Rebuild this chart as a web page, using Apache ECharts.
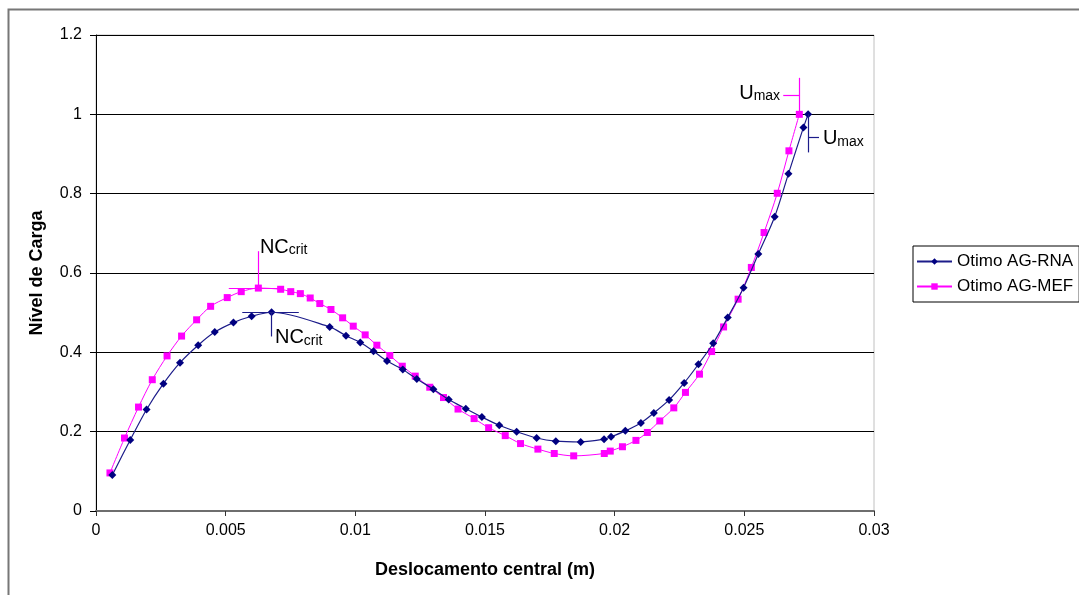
<!DOCTYPE html>
<html>
<head>
<meta charset="utf-8">
<script src="https://cdn.jsdelivr.net/npm/echarts@6/dist/echarts.min.js"></script>
<style>
html,body{margin:0;padding:0;background:#fff;}
#chart{width:1079px;height:595px;}
</style>
</head>
<body>
<div id="chart"></div>
<script>
// ---- Data ----
const rnaX = [0.00063, 0.00132, 0.00195, 0.0026, 0.00324, 0.00394, 0.00458, 0.0053, 0.006, 0.00677, 0.00901, 0.00964, 0.01019, 0.0107, 0.01122, 0.01183, 0.01237, 0.01301, 0.0136, 0.01426, 0.01488, 0.01555, 0.01622, 0.01699, 0.01773, 0.01869, 0.01959, 0.01986, 0.02041, 0.02101, 0.02151, 0.0221, 0.02268, 0.02323, 0.0238, 0.02436, 0.02497, 0.02554, 0.02617, 0.0267, 0.02728, 0.02746];
const rnaY = [0.091, 0.179, 0.256, 0.321, 0.374, 0.418, 0.451, 0.475, 0.491, 0.501, 0.464, 0.442, 0.425, 0.403, 0.378, 0.357, 0.333, 0.307, 0.281, 0.258, 0.237, 0.216, 0.200, 0.184, 0.176, 0.174, 0.181, 0.187, 0.202, 0.222, 0.247, 0.280, 0.323, 0.370, 0.423, 0.488, 0.563, 0.648, 0.742, 0.850, 0.967, 1.0];
const mefX = [0.000538, 0.0011, 0.00164, 0.00217, 0.00274, 0.0033, 0.00388, 0.00442, 0.00506, 0.0056, 0.00626, 0.00712, 0.00751, 0.00788, 0.00826, 0.00863, 0.00906, 0.00951, 0.00992, 0.01038, 0.01083, 0.01133, 0.01181, 0.01231, 0.01287, 0.0134, 0.01396, 0.01458, 0.01514, 0.01578, 0.01637, 0.01704, 0.01767, 0.01842, 0.0196, 0.01983, 0.0203, 0.02082, 0.02126, 0.02174, 0.02228, 0.02273, 0.02327, 0.02374, 0.0242, 0.02476, 0.02527, 0.02576, 0.02627, 0.02672, 0.02712];
const mefY = [0.096, 0.184, 0.262, 0.331, 0.391, 0.441, 0.482, 0.516, 0.538, 0.553, 0.562, 0.559, 0.553, 0.548, 0.537, 0.523, 0.508, 0.487, 0.466, 0.444, 0.418, 0.392, 0.365, 0.340, 0.312, 0.286, 0.257, 0.233, 0.210, 0.190, 0.170, 0.156, 0.145, 0.139, 0.145, 0.151, 0.162, 0.178, 0.198, 0.227, 0.260, 0.299, 0.345, 0.402, 0.464, 0.534, 0.614, 0.702, 0.801, 0.908, 1.0];

const seriesNames = ['Otimo AG-RNA', 'Otimo AG-MEF'];
const xTicks = [0, 0.005, 0.01, 0.015, 0.02, 0.025, 0.03];
const yTicks = [0, 0.2, 0.4, 0.6, 0.8, 1, 1.2];

// annotation segments (data units)
const rnaNCLines = [[[0.00564, 0.501], [0.00782, 0.501]], [[0.00677, 0.501], [0.00677, 0.44]]];
const rnaNCText = [0.0069, 0.439];
const mefNCLines = [[[0.00512, 0.562], [0.00723, 0.562]], [[0.00626, 0.562], [0.00626, 0.655]]];
const mefNCText = [0.00632, 0.668];
const rnaULines = [[[0.02746, 1.0], [0.02746, 0.904]], [[0.02746, 0.941], [0.02788, 0.941]]];
const rnaUText = [0.02803, 0.941];
const mefULines = [[[0.02712, 1.0], [0.02712, 1.092]], [[0.0265, 1.049], [0.02712, 1.049]]];
const mefUText = [0.02638, 1.056];

// ---- Chart ----
const FONT = '"Liberation Sans", Arial, sans-serif';
const zip = (xs, ys) => xs.map((x, i) => [x, ys[i]]);
const segs = (lines) => lines.map(l => [{coord: l[0]}, {coord: l[1]}]);
const subRich = {
  a: {fontSize: 20, lineHeight: 22, verticalAlign: 'bottom', fontFamily: FONT, color: '#000'},
  b: {fontSize: 14, lineHeight: 12, verticalAlign: 'bottom', fontFamily: FONT, color: '#000'}
};
function textPoint(coord, main, sub, pos) {
  return {
    coord: coord, symbol: 'circle', symbolSize: 0,
    label: {show: true, position: pos, distance: 0, formatter: '{a|' + main + '}{b|' + sub + '}', rich: subRich}
  };
}

const chart = echarts.init(document.getElementById('chart'));
chart.setOption({
  animation: false,
  backgroundColor: '#fff',
  textStyle: {fontFamily: FONT},
  graphic: [{
    type: 'rect', left: 6, top: 7, silent: true,
    shape: {width: 1100, height: 620},
    style: {fill: 'none', stroke: '#777', lineWidth: 2}
  }],
  grid: {
    left: 96, top: 35, right: 205, bottom: 84,
    show: true, borderColor: '#c0c0c0', borderWidth: 1, backgroundColor: '#fff'
  },
  legend: {
    orient: 'vertical', left: 913, top: 246,
    data: seriesNames,
    borderColor: '#000', borderWidth: 1,
    padding: [7, 6, 7, 3],
    itemWidth: 35, itemHeight: 8, itemGap: 8,
    textStyle: {fontSize: 17, color: '#000', fontFamily: FONT}
  },
  xAxis: {
    type: 'value', min: xTicks[0], max: xTicks[xTicks.length - 1], interval: xTicks[1] - xTicks[0],
    name: 'Deslocamento central (m)', nameLocation: 'middle', nameGap: 50,
    nameTextStyle: {fontSize: 18, fontWeight: 'bold', color: '#000', fontFamily: FONT},
    axisLine: {show: true, onZero: false, lineStyle: {color: '#6e6e6e', width: 2}},
    axisTick: {show: true, inside: false, length: 5, lineStyle: {color: '#333'}},
    axisLabel: {fontSize: 16, color: '#000', margin: 12, fontFamily: FONT},
    splitLine: {show: false}
  },
  yAxis: {
    type: 'value', min: yTicks[0], max: yTicks[yTicks.length - 1], interval: yTicks[1] - yTicks[0],
    name: 'Nível de Carga', nameLocation: 'middle', nameGap: 50, nameRotate: 90,
    nameTextStyle: {fontSize: 18, fontWeight: 'bold', color: '#000', fontFamily: FONT},
    axisLine: {show: true, lineStyle: {color: '#000', width: 1}},
    axisTick: {show: true, inside: false, length: 6, lineStyle: {color: '#000'}},
    axisLabel: {fontSize: 16, color: '#000', margin: 14, fontFamily: FONT},
    splitLine: {show: true, lineStyle: {color: '#000', width: 1}}
  },
  series: [
    {
      name: seriesNames[0], type: 'line', data: zip(rnaX, rnaY),
      smooth: 0.3, symbol: 'diamond', symbolSize: 8,
      itemStyle: {color: '#000080'},
      lineStyle: {color: '#1c1c8a', width: 1.2},
      z: 3,
      markLine: {
        silent: true, symbol: 'none', label: {show: false},
        lineStyle: {color: '#1c1c8a', width: 1.2, type: 'solid'},
        data: segs(rnaNCLines.concat(rnaULines))
      },
      markPoint: {
        silent: true,
        data: [textPoint(rnaNCText, 'NC', 'crit', 'right'), textPoint(rnaUText, 'U', 'max', 'right')]
      }
    },
    {
      name: seriesNames[1], type: 'line', data: zip(mefX, mefY),
      smooth: 0.3, symbol: 'rect', symbolSize: 7,
      itemStyle: {color: '#ff00ff'},
      lineStyle: {color: '#ff00ff', width: 1},
      z: 2,
      markLine: {
        silent: true, symbol: 'none', label: {show: false},
        lineStyle: {color: '#ff00ff', width: 1.2, type: 'solid'},
        data: segs(mefNCLines.concat(mefULines))
      },
      markPoint: {
        silent: true,
        data: [textPoint(mefNCText, 'NC', 'crit', 'right'), textPoint(mefUText, 'U', 'max', 'left')]
      }
    }
  ]
});
</script>
</body>
</html>
